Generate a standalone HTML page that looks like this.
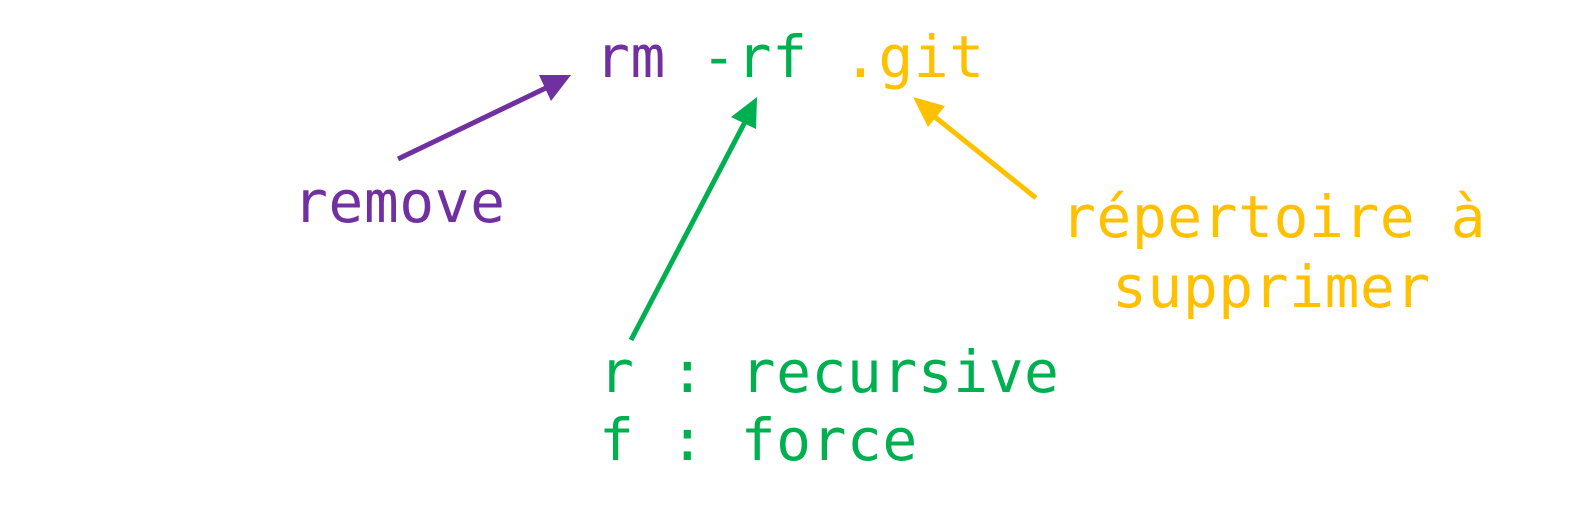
<!DOCTYPE html>
<html><head><meta charset="utf-8"><style>
html,body{margin:0;padding:0;background:#fff;}
svg{display:block;}
text{font-family:"DejaVu Sans Mono","Liberation Mono",monospace;font-size:58px;letter-spacing:0.5px;}
</style></head><body>
<svg width="1582" height="515" viewBox="0 0 1582 515" xmlns="http://www.w3.org/2000/svg">
<rect width="1582" height="515" fill="#fff"/>
<text x="595" y="77"><tspan fill="#7030A0">rm</tspan><tspan fill="#00B050"> -rf</tspan><tspan fill="#FFC000"> .git</tspan></text>
<text x="293" y="222" fill="#7030A0">remove</text>
<text x="1061" y="237" fill="#FFC000">répertoire à</text>
<text x="1112" y="307" fill="#FFC000">supprimer</text>
<text x="599" y="392" fill="#00B050">r : recursive</text>
<text x="599" y="460" fill="#00B050">f : force</text>
<line x1="398" y1="159" x2="550" y2="86" stroke="#7030A0" stroke-width="5"/>
<polygon points="571,75 539,75 551,101" fill="#7030A0"/>
<line x1="631" y1="340" x2="746" y2="120" stroke="#00B050" stroke-width="5"/>
<polygon points="757,97 731,117 756,129" fill="#00B050"/>
<line x1="1036" y1="198" x2="930" y2="113" stroke="#FFC000" stroke-width="5"/>
<polygon points="913,97 928,127 945,106" fill="#FFC000"/>
</svg>
</body></html>
